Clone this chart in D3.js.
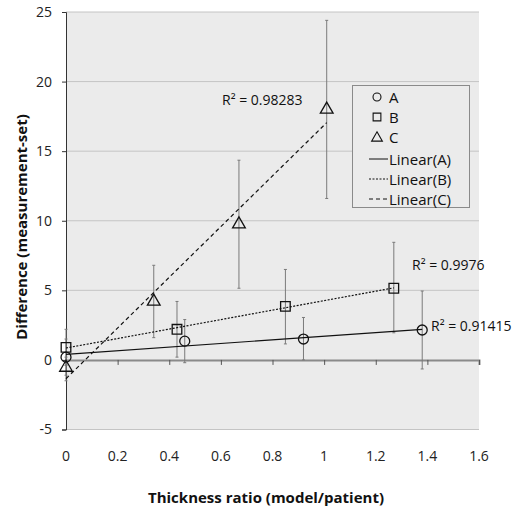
<!DOCTYPE html>
<html><head><meta charset="utf-8">
<script src="https://cdn.jsdelivr.net/npm/d3@7"></script>
<style>body{margin:0;background:#fff}svg{display:block}text{font-family:"Open Sans",sans-serif}</style>
</head><body><svg id="c" width="513" height="509"></svg>
<script>
// Data
const xTicks = [0,0.2,0.4,0.6,0.8,1,1.2,1.4,1.6];
const yTicks = [-5,0,5,10,15,20,25];
const seriesNames = ["A","B","C"];
const xA = [0, 0.46, 0.92, 1.38];
const yA = [0.2, 1.35, 1.5, 2.15];
const loA = [-1.1, -0.2, 0.0, -0.65];
const hiA = [1.5, 2.9, 3.05, 4.95];
const xB = [0, 0.43, 0.85, 1.27];
const yB = [0.9, 2.2, 3.85, 5.15];
const loB = [-0.4, 0.2, 1.15, 1.95];
const hiB = [2.2, 4.2, 6.5, 8.45];
const xC = [0, 0.34, 0.67, 1.01];
const yC = [-0.55, 4.2, 9.75, 18.0];
const loC = [-1.5, 1.6, 5.15, 11.6];
const hiC = [0.2, 6.8, 14.35, 24.4];
const r2Labels = ["R² = 0.91415", "R² = 0.9976", "R² = 0.98283"];

const svg = d3.select("#c");
const x = d3.scaleLinear().domain([0,1.6]).range([66,479]);
const y = d3.scaleLinear().domain([-5,25]).range([429.5,12]);

// plot area
svg.append("rect").attr("x",x(0)).attr("y",y(25)).attr("width",x(1.6)-x(0)).attr("height",y(-5)-y(25)).attr("fill","#ebebeb");
// gridlines
svg.append("g").selectAll("line").data(yTicks.filter(d=>d!==0)).join("line")
  .attr("x1",x(0)).attr("x2",x(1.6)).attr("y1",d=>y(d)).attr("y2",d=>y(d))
  .attr("stroke","#c4c4c4").attr("stroke-width",1);

// y axis
const yAx = svg.append("g").attr("transform",`translate(${x(0)},0)`)
  .call(d3.axisLeft(y).tickValues(yTicks).tickSize(4).tickPadding(10).tickFormat(d=>String(d)));
yAx.select(".domain").attr("stroke","#333");
yAx.selectAll(".tick line").attr("stroke","#333");
yAx.selectAll("text").attr("font-size",14).attr("fill","#222").attr("font-family","Open Sans");

// x axis line at y=0 with ticks, labels at bottom
const xAx = svg.append("g").attr("transform",`translate(0,${y(0)})`)
  .call(d3.axisBottom(x).tickValues(xTicks).tickSize(5).tickFormat(()=>""));
xAx.select(".domain").attr("stroke","#8a8a8a").attr("stroke-width",2);
xAx.selectAll(".tick line").attr("stroke","#555");
svg.append("g").selectAll("text").data(xTicks).join("text")
  .attr("x",d=>x(d)).attr("y",461).attr("text-anchor","middle")
  .attr("font-size",14).attr("fill","#222").text(d=>String(d));

// axis titles
svg.append("text").attr("x",266).attr("y",503).attr("text-anchor","middle")
  .attr("font-size",15).attr("font-weight","bold").attr("fill","#111").text("Thickness ratio (model/patient)");
svg.append("text").attr("transform","translate(27,227) rotate(-90)").attr("text-anchor","middle")
  .attr("font-size",15).attr("font-weight","bold").attr("fill","#111").text("Difference (measurement-set)");

const series = [
  {xs:xA, ys:yA, lo:loA, hi:hiA, dash:null, label:r2Labels[0]},
  {xs:xB, ys:yB, lo:loB, hi:hiB, dash:"2,1.5", label:r2Labels[1]},
  {xs:xC, ys:yC, lo:loC, hi:hiC, dash:"4,3", label:r2Labels[2]}
];

// error bars
series.forEach(s=>{
  const g = svg.append("g").attr("stroke","#7a7a7a").attr("stroke-width",1);
  s.xs.forEach((xv,i)=>{
    g.append("line").attr("x1",x(xv)).attr("x2",x(xv)).attr("y1",y(s.lo[i])).attr("y2",y(s.hi[i]));
    [s.lo[i], s.hi[i]].forEach(v=>g.append("line").attr("x1",x(xv)-1.5).attr("x2",x(xv)+1.5).attr("y1",y(v)).attr("y2",y(v)));
  });
});

// trendlines (least squares fit of each series)
series.forEach(s=>{
  const mx = d3.mean(s.xs), my = d3.mean(s.ys);
  const slope = d3.sum(s.xs.map((v,i)=>(v-mx)*(s.ys[i]-my))) / d3.sum(s.xs.map(v=>(v-mx)*(v-mx)));
  const b = my - slope*mx;
  const x0 = d3.min(s.xs), x1 = d3.max(s.xs);
  svg.append("line").attr("x1",x(x0)).attr("y1",y(b+slope*x0)).attr("x2",x(x1)).attr("y2",y(b+slope*x1))
    .attr("stroke","#111").attr("stroke-width",1.2).attr("stroke-dasharray",s.dash);
});

// markers
const sym = [d3.symbolCircle, d3.symbolSquare, d3.symbolTriangle];
const sizes = [78, 92, 70];
series.forEach((s,k)=>{
  svg.append("g").selectAll("path").data(s.xs.map((v,i)=>[v,s.ys[i]])).join("path")
    .attr("transform",d=>`translate(${x(d[0])},${y(d[1])})`)
    .attr("d",d3.symbol(sym[k],sizes[k])())
    .attr("fill","none").attr("stroke","#111").attr("stroke-width",1.3);
});

// R² labels
const r2Pos = [[431,331],[412,270],[222,105]];
r2Labels.forEach((t,i)=>svg.append("text").attr("x",r2Pos[i][0]).attr("y",r2Pos[i][1])
  .attr("font-size",14).attr("fill","#111").text(t));

// legend
const lg = svg.append("g");
lg.append("rect").attr("x",352.5).attr("y",85.5).attr("width",117).attr("height",122)
  .attr("fill","#ebebeb").attr("stroke","#8a8a8a");
const legendItems = seriesNames.concat(seriesNames.map(n=>`Linear(${n})`));
const rowY = [97,117,137,159,179,199];
legendItems.forEach((t,i)=>{
  if(i<3){
    lg.append("path").attr("transform",`translate(377,${rowY[i]+ (i===2?1:0)})`)
      .attr("d",d3.symbol(sym[i],[50,60,50][i])()).attr("fill","none").attr("stroke","#111").attr("stroke-width",1.1);
  } else {
    lg.append("line").attr("x1",369).attr("x2",388).attr("y1",rowY[i]).attr("y2",rowY[i])
      .attr("stroke","#111").attr("stroke-width",1).attr("stroke-dasharray",series[i-3].dash);
  }
  lg.append("text").attr("x",389).attr("y",rowY[i]+5.5).attr("font-size",15).attr("fill","#111").text(t);
});
</script></body></html>
